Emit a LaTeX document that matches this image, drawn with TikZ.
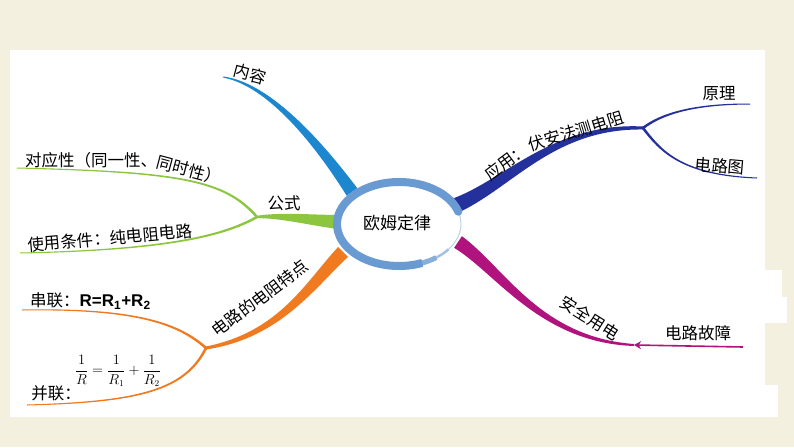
\documentclass[tikz,border=0pt]{standalone}
\usepackage{fontspec}
\setmainfont{Liberation Serif}
\newfontfamily\cjk{Noto Sans CJK SC}
\newfontfamily\arialf{Liberation Sans}
\usetikzlibrary{calc,arrows.meta}
\definecolor{bg}{HTML}{F3F0E0}
\definecolor{ringc}{HTML}{6A9AD2}
\definecolor{bluec}{HTML}{1C87CF}
\definecolor{greenc}{HTML}{8CC63E}
\definecolor{orangec}{HTML}{EF7A20}
\definecolor{navyc}{HTML}{24309B}
\definecolor{magc}{HTML}{B0127E}
\newcommand\taperbranch[7]{%
 \pgfmathsetmacro\twa{0.7*#6+0.3*#7}\pgfmathsetmacro\twb{0.3*#6+0.7*#7}%
 \fill[#1] ($(#2)!#6pt!90:(#3)$) .. controls ($(#3)!\twa pt!90:(#4)$) and ($(#4)!\twb pt!90:(#5)$) .. ($(#5)!#7pt!-90:(#4)$)
   -- ($(#5)!#7pt!90:(#4)$) .. controls ($(#4)!\twb pt!-90:(#5)$) and ($(#3)!\twa pt!-90:(#4)$) .. ($(#2)!#6pt!-90:(#3)$) -- cycle;}
\begin{document}
\begin{tikzpicture}[x=1pt,y=-1pt,
  lbl/.style={font=\cjk\fontsize{16.5}{18}\selectfont, inner sep=0pt}]
\useasboundingbox (0,0) rectangle (794,447);
\fill[bg] (0,0) rectangle (794,447);
\fill[white] (10,50) rectangle (765,417);
\fill[white] (765,270) rectangle (782,297);
\fill[white] (765,297) rectangle (787,323);
\fill[white] (765,385) rectangle (778,417);

% coordinates
\coordinate (ctr) at (399,224);
\coordinate (nrS) at (352,192); \coordinate (nrA) at (330,160); \coordinate (nrB) at (275,85); \coordinate (nrE) at (223,77);
\coordinate (gsS) at (338,222); \coordinate (gsA) at (310,220); \coordinate (gsB) at (280,215); \coordinate (gj) at (257,217);
\coordinate (g1A) at (225,180); \coordinate (g1B) at (180,172); \coordinate (g1E) at (17,168);
\coordinate (g2A) at (225,235); \coordinate (g2B) at (170,250); \coordinate (g2E) at (20,253);
\coordinate (orS) at (343,252); \coordinate (orA) at (310,285); \coordinate (orB) at (280,335); \coordinate (oj) at (206,348);
\coordinate (o1A) at (180,325); \coordinate (o1B) at (140,308); \coordinate (o1E) at (22,310);
\coordinate (o2A) at (185,390); \coordinate (o2B) at (140,402); \coordinate (o2E) at (27,405);
\coordinate (nvS) at (457,205); \coordinate (nvA) at (510,182); \coordinate (nvB) at (555,125); \coordinate (nj) at (643,128);
\coordinate (n1A) at (660,115); \coordinate (n1B) at (690,104); \coordinate (n1E) at (750,104);
\coordinate (n2A) at (660,150); \coordinate (n2B) at (680,175); \coordinate (n2E) at (757,178);
\coordinate (mgS) at (458,242); \coordinate (mgA) at (500,270); \coordinate (mgB) at (540,340); \coordinate (mj) at (634,345);
\coordinate (gzE) at (743,347);

% branches
\taperbranch{bluec}{nrS}{nrA}{nrB}{nrE}{6.5}{0.5}
\taperbranch{greenc}{gsS}{gsA}{gsB}{gj}{7}{1.2}
\taperbranch{greenc}{gj}{g1A}{g1B}{g1E}{1.3}{0.5}
\taperbranch{greenc}{gj}{g2A}{g2B}{g2E}{1.3}{0.5}
\taperbranch{orangec}{orS}{orA}{orB}{oj}{7}{1.5}
\taperbranch{orangec}{oj}{o1A}{o1B}{o1E}{1.3}{0.5}
\taperbranch{orangec}{oj}{o2A}{o2B}{o2E}{1.3}{0.5}
\taperbranch{navyc}{nvS}{nvA}{nvB}{nj}{7.5}{1.5}
\taperbranch{navyc}{nj}{n1A}{n1B}{n1E}{1.3}{0.5}
\taperbranch{navyc}{nj}{n2A}{n2B}{n2E}{1.3}{0.5}
\taperbranch{magc}{mgS}{mgA}{mgB}{mj}{7}{1}
\draw[magc, line width=1.6pt, -{Stealth[length=7pt,width=8pt]}] (gzE) -- (mj);

% central ring
\fill[white] (ctr) ellipse[x radius=60pt, y radius=40pt];
\draw[ringc!45, line width=1pt] (ctr) ++(-40:62pt and 42pt) arc[start angle=-40, end angle=17, x radius=62pt, y radius=42pt];
\draw[ringc!60, line width=2.5pt] (ctr) ++(305:62pt and 42pt) arc[start angle=305, end angle=323, x radius=62pt, y radius=42pt];
\draw[ringc!80, line width=5pt] (ctr) ++(290:62pt and 42pt) arc[start angle=290, end angle=307, x radius=62pt, y radius=42pt];
\draw[ringc, line width=8pt] (ctr) ++(17:62pt and 42pt) arc[start angle=17, end angle=292, x radius=62pt, y radius=42pt];
\fill[ringc] (ctr) ++(17:62pt and 42pt) circle[radius=4pt];

% labels
\node[lbl, font=\cjk\fontsize{17}{19}\selectfont] (hub) at (397,223) {欧姆定律};
\node[lbl, rotate=-15] (nr) at (250,74) {内容};
\node[lbl] (gs) at (284,203) {公式};
\node[lbl] (dy1) at (91,160) {对应性（同一性、};
\node[lbl, rotate=-15] (dy2) at (189,170) {同时性）};
\node[lbl, rotate=5] (sy) at (110,238) {使用条件：纯电阻电路};
\node[lbl, anchor=west] (cl) at (30,301) {串联：{\arialf\bfseries\fontsize{17}{19}\selectfont R=R\textsubscript{1}+R\textsubscript{2}}};
\node[inner sep=0pt, font=\fontsize{13.5}{15}\selectfont] (fm) at (118,371) {$\displaystyle\frac{1}{R}=\frac{1}{R_1}+\frac{1}{R_2}$};
\node[lbl] (bl) at (56,393) {并联：};
\node[lbl, rotate=37] (dl) at (260,298) {电路的电阻特点};
\node[lbl, rotate=37] (yy1) at (506,162) {应用：};
\node[lbl, rotate=17] (yy2) at (576,131) {伏安法测电阻};
\node[lbl] (yl) at (719,94) {原理};
\node[lbl, rotate=-5] (dlt) at (720,166) {电路图};
\node[lbl, rotate=-32] (aq) at (590,318) {安全用电};
\node[lbl] (gz) at (698,333) {电路故障};
\end{tikzpicture}
\end{document}
